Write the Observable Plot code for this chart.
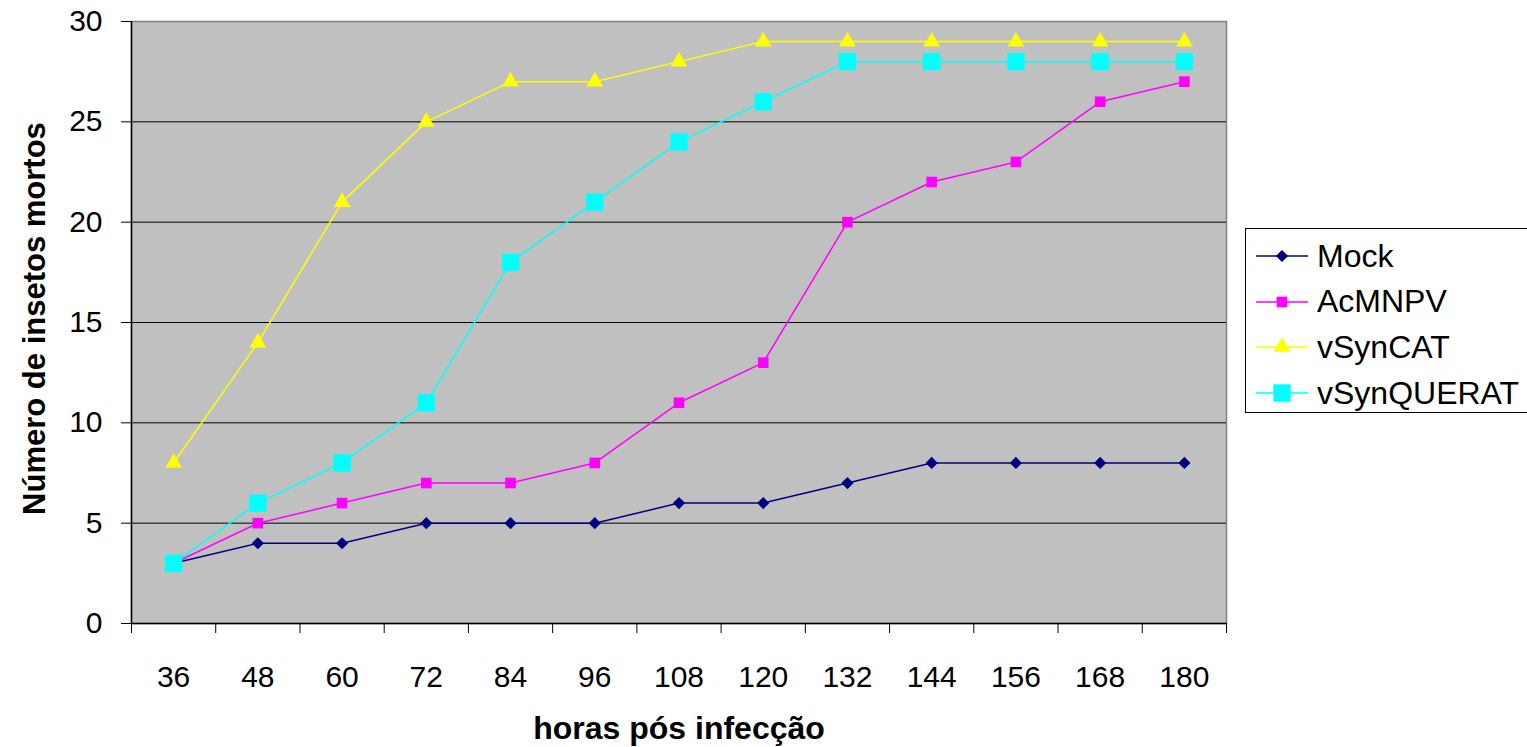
<!DOCTYPE html>
<html><head><meta charset="utf-8">
<script src="https://cdn.jsdelivr.net/npm/d3@7"></script>
<script src="https://cdn.jsdelivr.net/npm/@observablehq/plot@0.6"></script>
<style>
body{margin:0;background:#fff;font-family:"Liberation Sans",Arial,sans-serif;}
#wrap{position:relative;width:1527px;height:747px;overflow:hidden;}
#legend{position:absolute;left:1245px;top:228px;width:300px;height:185px;border:1.5px solid #000;background:#fff;box-sizing:border-box;}
.item{position:absolute;left:10px;height:40px;display:flex;align-items:center;font-size:32px;color:#000;}
.item svg{margin-right:9px;}
</style></head><body>
<div id="wrap"><div id="chart"></div><div id="legend"></div></div>
<script>
const hours = [36,48,60,72,84,96,108,120,132,144,156,168,180];
const mock = [3,4,4,5,5,5,6,6,7,8,8,8,8];
const acmnpv = [3,5,6,7,7,8,11,13,20,22,23,26,27];
const vsyncat = [8,14,21,25,27,27,28,29,29,29,29,29,29];
const vsynquerat = [3,6,8,11,18,21,24,26,28,28,28,28,28];
const seriesNames = ["Mock","AcMNPV","vSynCAT","vSynQUERAT"];
const colors = ["#000080","#FF00FF","#FFFF00","#00FFFF"];
const symbols = ["diamond2","square","triangle","square"];
const radii = [5.5,6,6.2,9.8];
const yTicks = [0,5,10,15,20,25,30];

const allSeries = [mock, acmnpv, vsyncat, vsynquerat];
const data = [];
allSeries.forEach((vals,i)=>vals.forEach((v,j)=>data.push({series:seriesNames[i], h:hours[j], v})));
const boundaries = hours.map(h=>h-6).concat([hours[hours.length-1]+6]);

const marks = [
  Plot.frame({fill:"#C0C0C0", stroke:"#808080", strokeWidth:1.5}),
  Plot.ruleY(yTicks.filter(t=>t>0 && t<30), {stroke:"#000", strokeWidth:1}),
  Plot.ruleX([boundaries[0]], {stroke:"#000", strokeWidth:1.5}),
  Plot.ruleY([0], {stroke:"#000", strokeWidth:1.5}),
  Plot.axisY({ticks:yTicks, tickSize:10, tickPadding:19, fontSize:30, label:null}),
  Plot.axisX({ticks:boundaries, tickFormat:()=>"", tickSize:10, label:null}),
  Plot.axisX({ticks:hours, tickSize:0, tickPadding:42, fontSize:30, label:null}),
];
seriesNames.forEach((s,i)=>{
  const d = data.filter(r=>r.series===s);
  marks.push(Plot.line(d, {x:"h", y:"v", stroke:colors[i], strokeWidth:1.5}));
  marks.push(Plot.dot(d, {x:"h", y:"v", symbol:()=>symbols[i], fill:colors[i], r:radii[i], stroke:"none"}));
});
marks.push(Plot.text(["horas pós infecção"], {frameAnchor:"bottom", lineAnchor:"middle", dy:105, fontSize:32, fontWeight:"bold", fill:"#000"}));
marks.push(Plot.text(["Número de insetos mortos"], {frameAnchor:"left", textAnchor:"middle", lineAnchor:"middle", dx:-96, dy:-4, rotate:-90, fontSize:31, fontWeight:"bold", fill:"#000"}));

const chart = Plot.plot({
  width:1527, height:747,
  marginLeft:131, marginTop:21, marginBottom:124, marginRight:301,
  style:{fontFamily:"Liberation Sans, Arial, sans-serif", fontSize:"30px", color:"#000", background:"transparent", overflow:"visible"},
  x:{type:"linear", domain:[boundaries[0], boundaries[boundaries.length-1]]},
  y:{domain:[0,30]},
  symbol:{type:"identity"},
  marks
});
document.getElementById("chart").appendChild(chart);

const legend = document.getElementById("legend");
seriesNames.forEach((s,i)=>{
  const div = document.createElement("div");
  div.className="item";
  div.style.top = (7 + i*45.7) + "px";
  const sym = symbols[i]==="square" ? d3.symbolSquare : symbols[i]==="triangle" ? d3.symbolTriangle : d3.symbolDiamond2;
  const p = d3.symbol(sym, radii[i]*radii[i]*Math.PI)();
  div.innerHTML = `<svg width="52" height="30"><line x1="0" x2="52" y1="15" y2="15" stroke="${colors[i]}" stroke-width="1.5"/><path d="${p}" transform="translate(26,15)" fill="${colors[i]}"/></svg><span>${s}</span>`;
  legend.appendChild(div);
});
</script>
</body></html>
